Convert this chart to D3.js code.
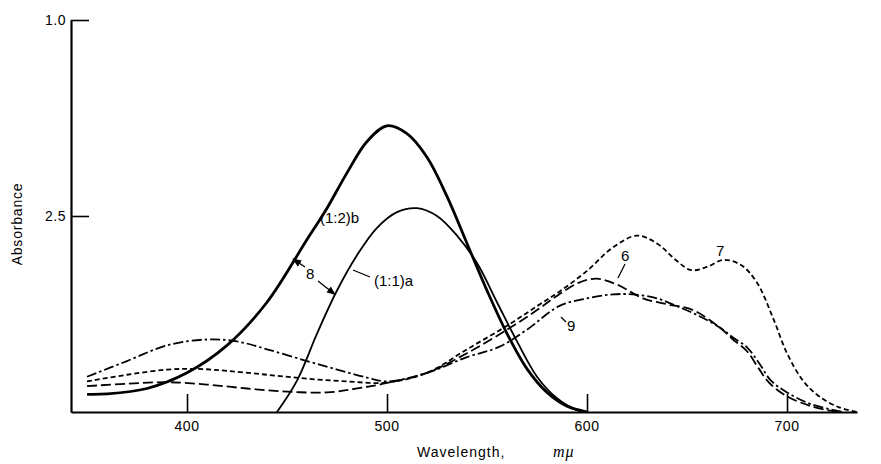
<!DOCTYPE html>
<html>
<head>
<meta charset="utf-8">
<script src="https://cdn.jsdelivr.net/npm/d3@7"></script>
<style>
  html, body { margin: 0; padding: 0; background: #fff; }
  svg { display: block; }
  text { font-family: "Liberation Sans", Arial, sans-serif; fill: #000; }
</style>
</head>
<body>
<svg id="chart" width="881" height="464"></svg>
<script>
// Absorption spectra, wavelength in mμ
const bandB = [[350,0.045],[360,0.046],[380,0.06],[400,0.10],[420,0.17],[440,0.28],[460,0.44],[470,0.52],[480,0.61],[490,0.69],[500,0.73],[510,0.71],[520,0.65],[530,0.55],[540,0.43],[550,0.31],[560,0.20],[570,0.11],[580,0.05],[590,0.015],[600,0.0]];
const bandA = [[445,0.0],[455,0.08],[465,0.20],[475,0.31],[485,0.40],[495,0.47],[505,0.51],[515,0.52],[525,0.50],[535,0.45],[545,0.38],[555,0.28],[565,0.18],[575,0.09],[585,0.035],[595,0.005],[600,0.0]];
const curve6 = [[350,0.066],[370,0.072],[390,0.076],[410,0.07],[430,0.06],[450,0.052],[470,0.05],[485,0.06],[500,0.074],[520,0.10],[540,0.15],[560,0.21],[575,0.26],[586,0.30],[596,0.33],[605,0.34],[615,0.325],[628,0.29],[640,0.275],[653,0.26],[666,0.217],[673,0.185],[680,0.155],[686,0.11],[691,0.075],[700,0.04],[712,0.015],[725,0.0]];
const curve7 = [[350,0.078],[370,0.095],[390,0.108],[405,0.11],[420,0.105],[440,0.095],[460,0.085],[480,0.078],[500,0.075],[520,0.10],[540,0.16],[560,0.22],[575,0.27],[587,0.31],[600,0.36],[613,0.42],[625,0.45],[635,0.43],[645,0.385],[652,0.362],[660,0.37],[668,0.388],[677,0.375],[685,0.33],[693,0.24],[700,0.15],[708,0.08],[716,0.04],[726,0.012],[735,0.0]];
const curve9 = [[350,0.09],[370,0.13],[390,0.17],[410,0.185],[425,0.18],[440,0.16],[460,0.13],[476,0.107],[490,0.088],[500,0.078],[520,0.10],[540,0.14],[556,0.166],[570,0.21],[586,0.27],[600,0.29],[613,0.30],[623,0.30],[635,0.29],[645,0.27],[656,0.245],[666,0.217],[673,0.19],[680,0.165],[686,0.125],[692,0.08],[700,0.05],[712,0.02],[728,0.0]];

const xTickValues = [400, 500, 600, 700];
const xTickLabels = ["400", "500", "600", "700"];
const yTickValues = [0.5, 1.0];
const yTickLabels = ["2.5", "1.0"];

const svg = d3.select("#chart");
const x = d3.scaleLinear().domain([342, 735]).range([71, 857]);
const y = d3.scaleLinear().domain([0, 1]).range([412, 20]);

const ink = "#000";

// axes: ticks point inward
const xAxis = d3.axisTop(x).tickValues(xTickValues).tickSize(18).tickFormat("").tickSizeOuter(0);
const gx = svg.append("g").attr("transform", `translate(0,${y(0)})`).call(xAxis);
gx.select(".domain").attr("stroke", ink).attr("stroke-width", 2.2);
gx.selectAll(".tick line").attr("stroke", ink).attr("stroke-width", 1.6);

svg.append("g").selectAll("text").data(xTickValues).join("text")
  .attr("x", d => x(d)).attr("y", y(0) + 19)
  .attr("text-anchor", "middle").attr("font-size", 14).attr("letter-spacing", 0.5)
  .text((d, i) => xTickLabels[i]);

const yAxis = d3.axisRight(y).tickValues(yTickValues).tickSize(18).tickFormat("").tickSizeOuter(0);
const gy = svg.append("g").attr("transform", `translate(${x(342)},0)`).call(yAxis);
gy.select(".domain").attr("stroke", ink).attr("stroke-width", 2.2);
gy.selectAll(".tick line").attr("stroke", ink).attr("stroke-width", 1.6);

svg.append("g").selectAll("text").data(yTickValues).join("text")
  .attr("x", x(342) - 5).attr("y", d => y(d) + 5)
  .attr("text-anchor", "end").attr("font-size", 14).attr("letter-spacing", 0.5)
  .text((d, i) => yTickLabels[i]);

// axis titles
svg.append("text")
  .attr("transform", `translate(22,${(y(0) + y(1)) / 2 + 8}) rotate(-90)`)
  .attr("text-anchor", "middle").attr("font-size", 14).attr("letter-spacing", 0.8)
  .text("Absorbance");

const xt = svg.append("text").attr("y", 457).attr("font-size", 14).attr("letter-spacing", 1);
xt.append("tspan").attr("x", 417).text("Wavelength,");
xt.append("tspan").attr("x", 553).attr("font-style", "italic").attr("font-family", "Liberation Serif, serif").attr("font-size", 16).text("mμ");

// spectra
const line = d3.line().x(d => x(d[0])).y(d => y(d[1])).curve(d3.curveCatmullRom.alpha(0.5));

const series = [
  { data: bandB, width: 2.8, dash: null },
  { data: bandA, width: 1.8, dash: null },
  { data: curve7, width: 1.8, dash: "5,3" },
  { data: curve6, width: 1.8, dash: "10,4" },
  { data: curve9, width: 1.8, dash: "10,3,2.5,3" }
];

svg.append("g").selectAll("path").data(series).join("path")
  .attr("d", d => line(d.data))
  .attr("fill", "none").attr("stroke", ink)
  .attr("stroke-width", d => d.width)
  .attr("stroke-dasharray", d => d.dash)
  .attr("stroke-linejoin", "round");

// curve labels
const lbl = svg.append("g").attr("font-size", 15);
lbl.append("text").attr("x", 320).attr("y", 223).text("(1:2)b");
lbl.append("text").attr("x", 374).attr("y", 286).text("(1:1)a");
lbl.append("line").attr("x1", 353).attr("y1", 270).attr("x2", 370).attr("y2", 277).attr("stroke", ink).attr("stroke-width", 1.3);
lbl.append("text").attr("x", 306).attr("y", 279).text("8");
lbl.append("text").attr("x", 621).attr("y", 261).text("6");
lbl.append("line").attr("x1", 625).attr("y1", 264).attr("x2", 618).attr("y2", 278).attr("stroke", ink).attr("stroke-width", 1.3);
lbl.append("text").attr("x", 716).attr("y", 256).text("7");
lbl.append("text").attr("x", 567).attr("y", 331).text("9");
lbl.append("line").attr("x1", 561).attr("y1", 317).attr("x2", 566).attr("y2", 322).attr("stroke", ink).attr("stroke-width", 1.3);

// arrows from the "8" marker to both bands
svg.append("defs").append("marker").attr("id", "arr")
  .attr("viewBox", "0 0 10 10").attr("refX", 9).attr("refY", 5)
  .attr("markerWidth", 7).attr("markerHeight", 7).attr("orient", "auto")
  .append("path").attr("d", "M0,1 L10,5 L0,9 Z").attr("fill", ink);
lbl.append("line").attr("x1", 305).attr("y1", 267).attr("x2", x(453)).attr("y2", y(0.39))
  .attr("stroke", ink).attr("stroke-width", 1.3).attr("marker-end", "url(#arr)");
lbl.append("line").attr("x1", 318).attr("y1", 281).attr("x2", x(474)).attr("y2", y(0.30))
  .attr("stroke", ink).attr("stroke-width", 1.3).attr("marker-end", "url(#arr)");
</script>
</body>
</html>
